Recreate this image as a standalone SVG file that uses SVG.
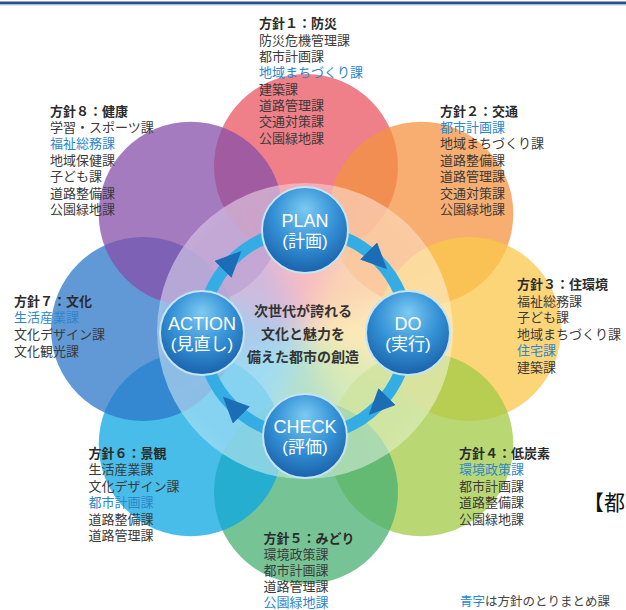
<svg xmlns="http://www.w3.org/2000/svg" width="626" height="610" viewBox="0 0 626 610">
<defs>
<style>
.t{font-family:"Liberation Sans","Noto Sans CJK JP",sans-serif;font-size:13px;fill:#3a3a3a}
.h{font-weight:700;fill:#2b2b2b}
.b{fill:#2d86cc}
.p{fill-opacity:.75}
.n{font-family:"Liberation Sans","Noto Sans CJK JP",sans-serif;fill:#fff;text-anchor:middle}
.nl{font-size:18px}
.nj{font-size:17px}
.node{fill:url(#sphere);stroke:#c4e4f7;stroke-width:2}
.ring{fill:none;stroke:#33ade3;stroke-width:12;marker-mid:url(#arr)}
</style>
<radialGradient id="sphere" cx="50%" cy="35%" r="65%" fx="50%" fy="25%">
<stop offset="0" stop-color="#7ccaf3"/>
<stop offset="0.55" stop-color="#3592d6"/>
<stop offset="1" stop-color="#1a62ab"/>
</radialGradient>
<filter id="blur" x="-30%" y="-30%" width="160%" height="160%"><feGaussianBlur stdDeviation="14"/></filter>
<clipPath id="disc"><circle cx="305" cy="331" r="148"/></clipPath>
<marker id="arr" markerUnits="userSpaceOnUse" markerWidth="26" markerHeight="24" viewBox="0 0 26 24" refX="13" refY="12" orient="auto"><path d="M0,0 L26,12 L0,24 Z" fill="#1b6db6"/></marker>
</defs>
<rect width="626" height="610" fill="#fff"/>
<rect x="0" y="1.5" width="626" height="2.6" fill="#2e4e8c"/>
<rect x="0" y="4.1" width="626" height="1.2" fill="#9db1d6"/>

<g id="wheel" clip-path="url(#disc)">
<g filter="url(#blur)">
<polygon points="305,331 239.94,173.94 370.06,173.94" fill="#ef7f89"/>
<polygon points="305,331 370.06,173.94 462.06,265.94" fill="#f7ae70"/>
<polygon points="305,331 462.06,265.94 462.06,396.06" fill="#fcd578"/>
<polygon points="305,331 462.06,396.06 370.06,488.06" fill="#b9d874"/>
<polygon points="305,331 370.06,488.06 239.94,488.06" fill="#76c496"/>
<polygon points="305,331 239.94,488.06 147.94,396.06" fill="#48bde9"/>
<polygon points="305,331 147.94,396.06 147.94,265.94" fill="#6199d6"/>
<polygon points="305,331 147.94,265.94 239.94,173.94" fill="#a57bbf"/>
</g>
</g>

<g id="policy-1">
<circle class="p" cx="306" cy="166" r="92" fill="#e95461"/>
<text class="t" x="259" y="28.4"><tspan class="h">方針１：防災</tspan><tspan x="259" dy="16.3">防災危機管理課</tspan><tspan x="259" dy="16.3">都市計画課</tspan><tspan x="259" dy="16.3" class="b">地域まちづくり課</tspan><tspan x="259" dy="16.3">建築課</tspan><tspan x="259" dy="16.3">道路管理課</tspan><tspan x="259" dy="16.3">交通対策課</tspan><tspan x="259" dy="16.3">公園緑地課</tspan></text>
</g>
<g id="policy-2">
<circle class="p" cx="421.3" cy="213.7" r="92" fill="#f49340"/>
<text class="t" x="440" y="115.5"><tspan class="h">方針２：交通</tspan><tspan x="440" dy="16.4" class="b">都市計画課</tspan><tspan x="440" dy="16.4">地域まちづくり課</tspan><tspan x="440" dy="16.4">道路整備課</tspan><tspan x="440" dy="16.4">道路管理課</tspan><tspan x="440" dy="16.4">交通対策課</tspan><tspan x="440" dy="16.4">公園緑地課</tspan></text>
</g>
<g id="policy-3">
<circle class="p" cx="469" cy="329" r="92" fill="#fbc74b"/>
<text class="t" x="517" y="289.4"><tspan class="h">方針３：住環境</tspan><tspan x="517" dy="16.5">福祉総務課</tspan><tspan x="517" dy="16.5">子ども課</tspan><tspan x="517" dy="16.5">地域まちづくり課</tspan><tspan x="517" dy="16.5" class="b">住宅課</tspan><tspan x="517" dy="16.5">建築課</tspan></text>
</g>
<g id="policy-4">
<circle class="p" cx="421.3" cy="444.3" r="92" fill="#a1cb45"/>
<text class="t" x="459" y="458"><tspan class="h">方針４：低炭素</tspan><tspan x="459" dy="16.4" class="b">環境政策課</tspan><tspan x="459" dy="16.4">都市計画課</tspan><tspan x="459" dy="16.4">道路整備課</tspan><tspan x="459" dy="16.4">公園緑地課</tspan></text>
</g>
<g id="policy-5">
<circle class="p" cx="306" cy="492" r="92" fill="#48b073"/>
<text class="t" x="263.5" y="542.5"><tspan class="h">方針５：みどり</tspan><tspan x="263.5" dy="16.1">環境政策課</tspan><tspan x="263.5" dy="16.1">都市計画課</tspan><tspan x="263.5" dy="16.1">道路管理課</tspan><tspan x="263.5" dy="16.1" class="b">公園緑地課</tspan></text>
</g>
<g id="policy-6">
<circle class="p" cx="190.7" cy="444.3" r="92" fill="#0ba7e1"/>
<text class="t" x="88.6" y="458"><tspan class="h">方針６：景観</tspan><tspan x="88.6" dy="16.4">生活産業課</tspan><tspan x="88.6" dy="16.4">文化デザイン課</tspan><tspan x="88.6" dy="16.4" class="b">都市計画課</tspan><tspan x="88.6" dy="16.4">道路整備課</tspan><tspan x="88.6" dy="16.4">道路管理課</tspan></text>
</g>
<g id="policy-7">
<circle class="p" cx="143" cy="329" r="92" fill="#2c77c8"/>
<text class="t" x="14" y="305.8"><tspan class="h">方針７：文化</tspan><tspan x="14" dy="16.6" class="b">生活産業課</tspan><tspan x="14" dy="16.6">文化デザイン課</tspan><tspan x="14" dy="16.6">文化観光課</tspan></text>
</g>
<g id="policy-8">
<circle class="p" cx="190.7" cy="213.7" r="92" fill="#874fa9"/>
<text class="t" x="50" y="115.5"><tspan class="h">方針８：健康</tspan><tspan x="50" dy="16.4">学習・スポーツ課</tspan><tspan x="50" dy="16.4" class="b">福祉総務課</tspan><tspan x="50" dy="16.4">地域保健課</tspan><tspan x="50" dy="16.4">子ども課</tspan><tspan x="50" dy="16.4">道路整備課</tspan><tspan x="50" dy="16.4">公園緑地課</tspan></text>
</g>

<circle id="pale-disc" cx="305" cy="331" r="148" fill="#fff" fill-opacity="0.47"/>

<g id="connectors">
<path class="ring" d="M305,230 A103,103 0 0 1 377.83,260.17 A103,103 0 0 1 408,333"/>
<path class="ring" d="M408,333 A103,103 0 0 1 377.83,405.83 A103,103 0 0 1 305,436"/>
<path class="ring" d="M305,436 A103,103 0 0 1 232.17,405.83 A103,103 0 0 1 202,333"/>
<path class="ring" d="M202,333 A103,103 0 0 1 232.17,260.17 A103,103 0 0 1 305,230"/>
</g>

<g id="node-plan">
<circle class="node" cx="305" cy="230" r="43"/>
<text class="n nl" x="305" y="226.5">PLAN</text>
<text class="n nj" x="305" y="246.5">(計画)</text>
</g>
<g id="node-do">
<circle class="node" cx="408" cy="333" r="42"/>
<text class="n nl" x="408" y="329.5">DO</text>
<text class="n nj" x="408" y="349.5">(実行)</text>
</g>
<g id="node-check">
<circle class="node" cx="305" cy="436" r="42"/>
<text class="n nl" x="305" y="432.5">CHECK</text>
<text class="n nj" x="305" y="452.5">(評価)</text>
</g>
<g id="node-action">
<circle class="node" cx="202" cy="333" r="42"/>
<text class="n nl" x="202" y="329.5">ACTION</text>
<text class="n nj" x="202" y="349.5">(見直し)</text>
</g>

<g id="vision">
<text class="t h" x="303" y="315.5" text-anchor="middle" style="font-size:14px;fill:#333">次世代が誇れる</text>
<text class="t h" x="303" y="338.5" text-anchor="middle" style="font-size:14px;fill:#333">文化と魅力を</text>
<text class="t h" x="303" y="362" text-anchor="middle" style="font-size:14px;fill:#333">備えた都市の創造</text>
</g>

<text x="583" y="510" style="font-family:'Noto Sans CJK JP',sans-serif;font-size:21px;fill:#111">【都</text>
<text class="t" x="460" y="606" style="font-size:12.5px;fill:#444"><tspan class="b">青字</tspan>は方針のとりまとめ課</text>
</svg>
